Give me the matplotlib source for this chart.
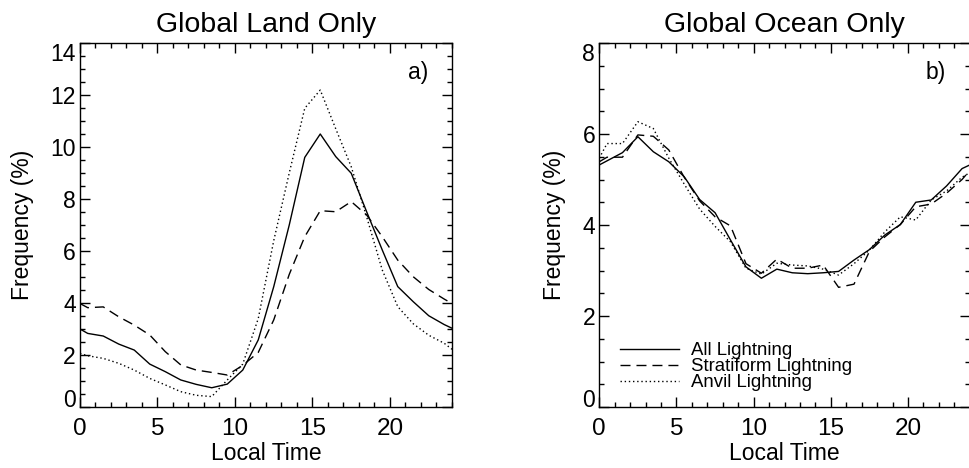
import matplotlib
matplotlib.use("Agg")
import matplotlib.pyplot as plt
from matplotlib.ticker import MultipleLocator

plt.rcParams['font.family'] = ['Liberation Sans', 'DejaVu Sans']

# Local time (hours): endpoints plus half-hour bin centres
local_time = [0, 0.5, 1.5, 2.5, 3.5, 4.5, 5.5, 6.5, 7.5, 8.5, 9.5, 10.5, 11.5,
              12.5, 13.5, 14.5, 15.5, 16.5, 17.5, 18.5, 19.5, 20.5, 21.5, 22.5, 23.5, 24]

# Global land only
land_all = [3.0, 2.83, 2.73, 2.42, 2.19, 1.65, 1.36, 1.04, 0.87, 0.74, 0.88, 1.42, 2.58,
            4.63, 7.0, 9.6, 10.5, 9.63, 8.99, 7.5, 6.04, 4.63, 4.05, 3.51, 3.17, 3.03]
land_strat = [3.98, 3.82, 3.85, 3.47, 3.15, 2.77, 2.13, 1.62, 1.42, 1.33, 1.23, 1.6, 2.1,
              3.35, 5.1, 6.55, 7.55, 7.51, 7.9, 7.38, 6.55, 5.65, 5.01, 4.52, 4.15, 3.98]
land_anvil = [2.06, 1.97, 1.87, 1.68, 1.42, 1.1, 0.85, 0.59, 0.45, 0.4, 1.04, 1.65, 3.4,
              6.4, 9.0, 11.49, 12.19, 10.7, 9.24, 7.3, 5.27, 3.86, 3.2, 2.76, 2.45, 2.22]

# Global ocean only
ocean_all = [5.32, 5.41, 5.59, 5.94, 5.61, 5.39, 5.06, 4.56, 4.27, 3.67, 3.08, 2.83, 3.03,
             2.95, 2.93, 2.95, 2.98, 3.23, 3.46, 3.78, 4.01, 4.5, 4.55, 4.86, 5.24, 5.32]
ocean_strat = [5.39, 5.49, 5.49, 5.98, 5.95, 5.65, 5.05, 4.53, 4.18, 3.98, 3.15, 2.94, 3.25,
               3.05, 3.05, 3.12, 2.63, 2.7, 3.42, 3.74, 4.01, 4.4, 4.46, 4.7, 5.0, 5.2]
ocean_anvil = [5.47, 5.79, 5.79, 6.27, 6.12, 5.47, 4.9, 4.35, 3.97, 3.63, 3.05, 2.92, 3.16,
               3.12, 3.1, 3.03, 2.9, 3.15, 3.45, 3.85, 4.18, 4.11, 4.55, 4.75, 5.05, 5.15]

series_labels = ['All Lightning', 'Stratiform Lightning', 'Anvil Lightning']
titles = ['Global Land Only', 'Global Ocean Only']
panel_tags = ['a)', 'b)']
xlabel = 'Local Time'
ylabel = 'Frequency (%)'
xticks = [0, 5, 10, 15, 20]
land_yticks = [0, 2, 4, 6, 8, 10, 12, 14]
ocean_yticks = [0, 2, 4, 6, 8]

fig = plt.figure(figsize=(9.7, 4.68), dpi=100)
ax1 = fig.add_axes([80/970, 1 - 407/468, 372/970, 364/468])
ax2 = fig.add_axes([599.3/970, 1 - 407/468, 370.5/970, 364/468])

styles = [dict(linestyle='-'),
          dict(linestyle=(0, (7.2, 4.3))),
          dict(linestyle=(0, (1.0, 2.0)))]

def setup(ax, yticks, title, tag, lab_x):
    ax.set_xlim(0, 24)
    ax.set_ylim(yticks[0], yticks[-1])
    ax.set_xticks(xticks)
    ax.set_yticks(yticks)
    ax.xaxis.set_minor_locator(MultipleLocator(1))
    ax.yaxis.set_minor_locator(MultipleLocator(0.5))
    ax.tick_params(which='both', direction='in', top=True, right=True, width=1.0, color='black')
    ax.tick_params(which='major', length=7)
    ax.tick_params(which='minor', length=3.5)
    ax.tick_params(axis='x', labelsize=17.5, pad=8)
    ax.tick_params(axis='y', labelsize=16.5, pad=3)
    for s in ax.spines.values():
        s.set_linewidth(1.0)
    ax.set_title(title, fontsize=20.5, pad=8)
    ax.set_xlabel(xlabel, fontsize=16.5, labelpad=1)
    ax.set_ylabel(ylabel, fontsize=16.5)
    ax.yaxis.set_label_coords(lab_x, 0.5)
    ax.text(0.935, 0.901, tag, transform=ax.transAxes, ha='right', va='baseline', fontsize=16.5)
    labs = ax.get_yticklabels()
    labs[0].set_va('baseline')
    labs[-1].set_va('top')

for ax, data in ((ax1, (land_all, land_strat, land_anvil)),
                 (ax2, (ocean_all, ocean_strat, ocean_anvil))):
    for vals, st, lab in zip(data, styles, series_labels):
        ax.plot(local_time, vals, color='black', linewidth=1.0, label=lab, **st)

setup(ax1, land_yticks, titles[0], panel_tags[0], -0.124)
setup(ax2, ocean_yticks, titles[1], panel_tags[1], -0.09)

ax2.legend(loc='upper left', bbox_to_anchor=(0.0557, 0.1786), frameon=False,
           fontsize=13.4, handlelength=3.2, handletextpad=0.6, labelspacing=-0.05,
           borderpad=0, borderaxespad=0)

fig.savefig('out.png', dpi=100)
